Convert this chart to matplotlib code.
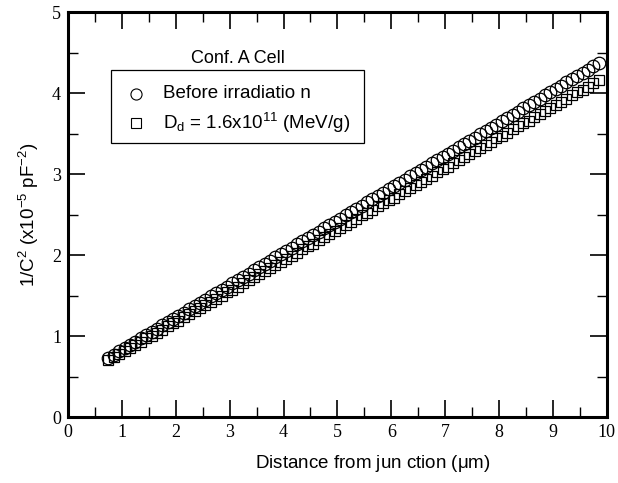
import matplotlib
matplotlib.use('Agg')
import matplotlib.pyplot as plt
import matplotlib.patches as patches
from matplotlib.ticker import MultipleLocator

plt.rcParams['mathtext.default'] = 'regular'

# data
x_vals = [0.75, 0.85, 0.95, 1.05, 1.15, 1.25, 1.35, 1.45, 1.55, 1.65,
          1.75, 1.85, 1.95, 2.05, 2.15, 2.25, 2.35, 2.45, 2.55, 2.65,
          2.75, 2.85, 2.95, 3.05, 3.15, 3.25, 3.35, 3.45, 3.55, 3.65,
          3.75, 3.85, 3.95, 4.05, 4.15, 4.25, 4.35, 4.45, 4.55, 4.65,
          4.75, 4.85, 4.95, 5.05, 5.15, 5.25, 5.35, 5.45, 5.55, 5.65,
          5.75, 5.85, 5.95, 6.05, 6.15, 6.25, 6.35, 6.45, 6.55, 6.65,
          6.75, 6.85, 6.95, 7.05, 7.15, 7.25, 7.35, 7.45, 7.55, 7.65,
          7.75, 7.85, 7.95, 8.05, 8.15, 8.25, 8.35, 8.45, 8.55, 8.65,
          8.75, 8.85, 8.95, 9.05, 9.15, 9.25, 9.35, 9.45, 9.55, 9.65,
          9.75, 9.85]
before = [0.73, 0.77, 0.81, 0.85, 0.89, 0.93, 0.97, 1.01, 1.05, 1.09,
          1.13, 1.17, 1.21, 1.25, 1.29, 1.33, 1.37, 1.41, 1.45, 1.49,
          1.53, 1.57, 1.61, 1.65, 1.69, 1.73, 1.77, 1.81, 1.85, 1.89,
          1.93, 1.97, 2.01, 2.05, 2.09, 2.13, 2.17, 2.21, 2.25, 2.29,
          2.33, 2.37, 2.41, 2.45, 2.49, 2.53, 2.57, 2.61, 2.65, 2.69,
          2.73, 2.77, 2.81, 2.85, 2.89, 2.93, 2.97, 3.01, 3.05, 3.09,
          3.13, 3.17, 3.21, 3.25, 3.29, 3.33, 3.37, 3.41, 3.45, 3.49,
          3.53, 3.57, 3.61, 3.65, 3.69, 3.73, 3.77, 3.81, 3.85, 3.89,
          3.93, 3.97, 4.01, 4.05, 4.09, 4.13, 4.17, 4.21, 4.25, 4.29,
          4.33, 4.37]
after = [0.70, 0.74, 0.78, 0.81, 0.85, 0.89, 0.93, 0.97, 1.00, 1.04,
         1.08, 1.12, 1.16, 1.19, 1.23, 1.27, 1.31, 1.35, 1.38, 1.42,
         1.46, 1.50, 1.54, 1.57, 1.61, 1.65, 1.69, 1.73, 1.76, 1.80,
         1.84, 1.88, 1.92, 1.95, 1.99, 2.03, 2.07, 2.11, 2.14, 2.18,
         2.22, 2.26, 2.30, 2.33, 2.37, 2.41, 2.45, 2.49, 2.52, 2.56,
         2.60, 2.64, 2.68, 2.71, 2.75, 2.79, 2.83, 2.87, 2.90, 2.94,
         2.98, 3.02, 3.06, 3.09, 3.13, 3.17, 3.21, 3.25, 3.28, 3.32,
         3.36, 3.40, 3.44, 3.47, 3.51, 3.55, 3.59, 3.63, 3.66, 3.70,
         3.74, 3.78, 3.82, 3.85, 3.89, 3.93, 3.97, 4.01, 4.04, 4.08,
         4.12, 4.16]
x_ticks = [0, 1, 2, 3, 4, 5, 6, 7, 8, 9, 10]
y_ticks = [0, 1, 2, 3, 4, 5]

fig = plt.figure(figsize=(6.18, 4.83), dpi=100)
ax = fig.add_axes([0.110, 0.1366, 0.872, 0.8385])

ax.plot(x_vals, after, ls='none', marker='s', ms=7.5, mfc='none', mec='black', mew=0.9)
ax.plot(x_vals, before, ls='none', marker='o', ms=9, mfc='none', mec='black', mew=0.9)

ax.set_xlim(0, 10)
ax.set_ylim(0, 5)
ax.set_xticks(x_ticks)
ax.set_yticks(y_ticks)
ax.xaxis.set_minor_locator(MultipleLocator(0.5))
ax.yaxis.set_minor_locator(MultipleLocator(0.5))
ax.tick_params(which='major', direction='in', length=12, width=1.2, top=True, right=True, pad=5)
ax.tick_params(which='minor', direction='in', length=7, width=1.0, top=True, right=True)
for lab in ax.get_xticklabels() + ax.get_yticklabels():
    lab.set_family('Liberation Serif')
    lab.set_fontsize(13)
for sp in ax.spines.values():
    sp.set_linewidth(2.2)

ax.set_xlabel('Distance from jun ction ($\\mu$m)', family='Liberation Sans', fontsize=13.5, labelpad=9)
ax.xaxis.set_label_coords(0.565, -0.09)
ax.set_ylabel('1/C$^2$ (x10$^{-5}$ pF$^{-2}$)', family='Liberation Sans', fontsize=13.5, labelpad=8)

# legend block drawn by hand
box = patches.Rectangle((0.080, 0.677), 0.469, 0.180, transform=ax.transAxes,
                        fc='white', ec='black', lw=0.9, zorder=3)
ax.add_patch(box)
ax.text(0.315, 0.886, 'Conf. A Cell', transform=ax.transAxes, ha='center', va='center',
        family='Liberation Sans', fontsize=13, zorder=4)
ax.plot([0.127], [0.798], transform=ax.transAxes, marker='o', ms=8, mfc='none',
        mec='black', mew=0.8, ls='none', zorder=4)
ax.plot([0.127], [0.726], transform=ax.transAxes, marker='s', ms=7, mfc='none',
        mec='black', mew=0.8, ls='none', zorder=4)
ax.text(0.176, 0.798, 'Before irradiatio n', transform=ax.transAxes, ha='left', va='center',
        family='Liberation Sans', fontsize=13.5, zorder=4)
ax.text(0.176, 0.726, 'D$_d$ = 1.6x10$^{11}$ (MeV/g)', transform=ax.transAxes, ha='left', va='center',
        family='Liberation Sans', fontsize=13.5, zorder=4)

fig.savefig('out.png', dpi=100, facecolor='white')
